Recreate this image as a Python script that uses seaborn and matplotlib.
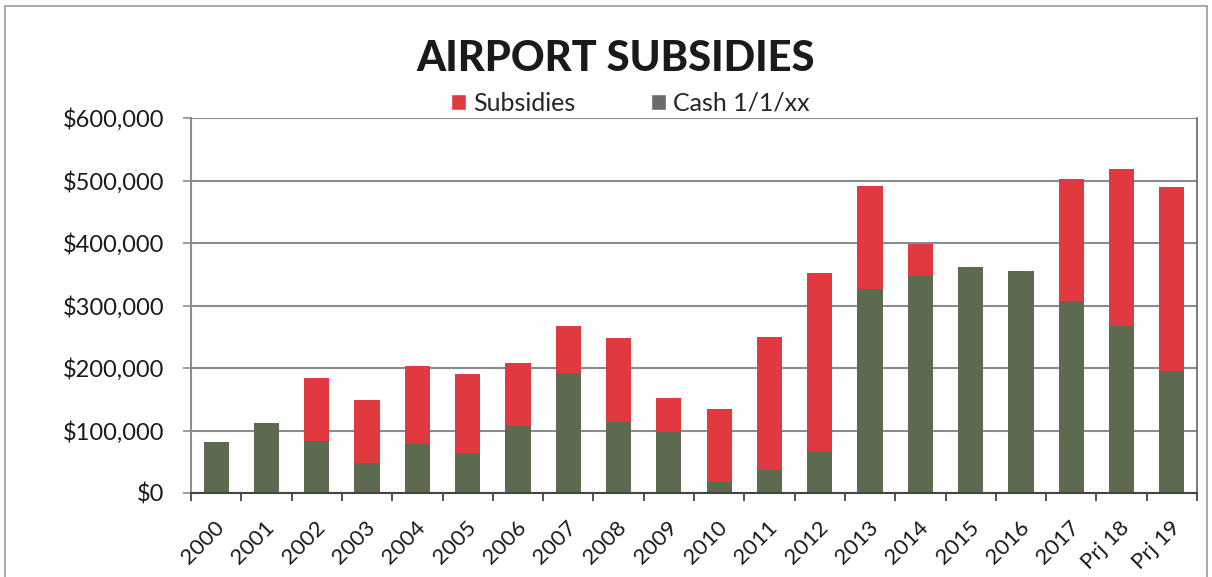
import matplotlib
matplotlib.use("Agg")
import matplotlib.pyplot as plt
import seaborn as sns
import pandas as pd
from matplotlib.patches import Patch, Rectangle
from matplotlib.ticker import FuncFormatter, MultipleLocator, FixedLocator
from matplotlib.transforms import ScaledTranslation

years = ["2000", "2001", "2002", "2003", "2004", "2005", "2006", "2007", "2008", "2009",
         "2010", "2011", "2012", "2013", "2014", "2015", "2016", "2017", "Prj 18", "Prj 19"]
cash = [81000, 111500, 84000, 48500, 78000, 64500, 107500, 191500, 113500, 97000,
        17500, 37000, 65000, 326000, 347500, 361000, 355000, 307000, 268000, 196000]
subsidies = [0, 0, 100500, 100500, 126000, 125500, 100500, 75500, 134000, 54500,
             117500, 213000, 286500, 165000, 50500, 0, 0, 196000, 250000, 293000]

df = pd.DataFrame({"year": years, "cash": cash, "subsidies": subsidies})
df["total"] = df["cash"] + df["subsidies"]

red = "#E0393F"
green = "#5D6A50"
grid_c = "#8C8C8C"

sns.set_theme(style="white")
plt.rcParams["font.family"] = ["Lato", "DejaVu Sans"]

fig = plt.figure(figsize=(12.12, 5.77), dpi=100)
ax = fig.add_axes([191 / 1212, 84 / 577, 1006 / 1212, 375 / 577])

sns.barplot(data=df, x="year", y="total", color=red, width=0.5, ax=ax,
            saturation=1, order=years, linewidth=0)
sns.barplot(data=df, x="year", y="cash", color=green, width=0.5, ax=ax,
            saturation=1, order=years, linewidth=0)

ax.set_ylim(0, 600000)
ax.set_xlim(-0.5, 19.5)
ax.yaxis.set_major_locator(MultipleLocator(100000))
ax.yaxis.set_major_formatter(FuncFormatter(lambda v, p: f"${int(v):,}"))
ax.set_axisbelow(True)
ax.grid(axis="y", color=grid_c, linewidth=1.5)
ax.grid(axis="x", visible=False)
ax.set_xlabel("")
ax.set_ylabel("")

ax.spines["top"].set_visible(False)
ax.spines["left"].set_color(grid_c)
ax.spines["left"].set_linewidth(1.5)
ax.spines["right"].set_color("#666666")
ax.spines["right"].set_linewidth(1.2)
ax.spines["bottom"].set_color("#444444")
ax.spines["bottom"].set_linewidth(1.5)

ax.tick_params(axis="y", labelsize=17, colors="#1a1a1a", length=6, width=1.2,
               left=True, color=grid_c, pad=13)
ax.set_xticks(range(len(years)))
ax.set_xticklabels(years, rotation=45, fontsize=16)
ax.tick_params(axis="x", which="major", length=0, pad=6, colors="#1a1a1a")
ax.xaxis.set_minor_locator(FixedLocator([i + 0.5 for i in range(-1, len(years))]))
ax.tick_params(axis="x", which="minor", length=6, width=1.3, color="#444444", bottom=True)
shift = ScaledTranslation(-0.02, -0.16, fig.dpi_scale_trans)
for lab in ax.get_xticklabels():
    lab.set_horizontalalignment("right")
    lab.set_verticalalignment("top")
    lab.set_rotation_mode("anchor")
    lab.set_transform(lab.get_transform() + shift)

fig.text(0.508, 0.898, "AIRPORT SUBSIDIES", ha="center", va="center",
         fontsize=30, fontweight="black", color="#1a1a1a")

handles = [Patch(facecolor=red, label="Subsidies"),
           Patch(facecolor="#6b6b6b", label="Cash 1/1/xx")]
fig.legend(handles=handles, loc="center", bbox_to_anchor=(0.52, 0.821), ncol=2,
           frameon=False, fontsize=18, handlelength=0.6, handleheight=0.6,
           handletextpad=0.3, columnspacing=3.0)

fig.add_artist(Rectangle((0.004, -0.1), 0.992, 1.09, transform=fig.transFigure,
                         fill=False, edgecolor="#999999", linewidth=1.2))

fig.savefig("out.png", dpi=100)
